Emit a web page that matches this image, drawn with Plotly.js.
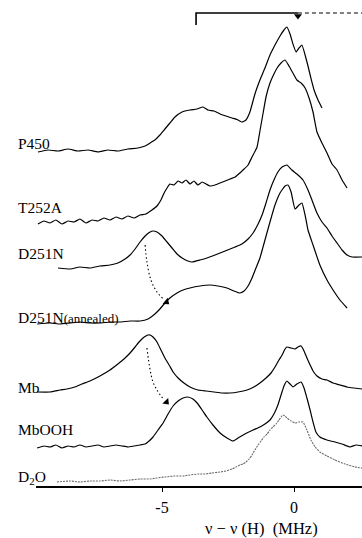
<!DOCTYPE html>
<html>
<head>
<meta charset="utf-8">
<script src="https://cdn.plot.ly/plotly-3.0.1.min.js"></script>
<style>html,body{margin:0;padding:0;background:#fff}</style>
</head>
<body>
<div id="chart" style="width:362px;height:538px"></div>
<script>
// ---- data (x in MHz, y in stacked intensity units) ----
const p450X = [-9.70,-9.32,-8.94,-8.56,-8.18,-7.80,-7.42,-7.05,-6.67,-6.29,-5.91,-5.64,-5.45,-5.27,-5.08,-4.89,-4.70,-4.51,-4.24,-3.94,-3.67,-3.45,-3.26,-3.03,-2.80,-2.58,-2.35,-2.12,-1.97,-1.82,-1.67,-1.48,-1.29,-1.10,-0.91,-0.72,-0.53,-0.38,-0.27,-0.15,-0.04,0.08,0.19,0.30,0.42,0.53,0.64,0.76,0.91,1.06];
const p450Y = [334,336,335,337,335,336,334,336,335,337,338,340,343,346,351,357,363,369,374,376,377,379,376,375,372,370,368,366,364,366,374,392,406,418,431,441,450,456,459,452,442,434,438,441,431,420,408,396,386,378];

const t252aX = [-9.70,-9.47,-9.24,-9.02,-8.79,-8.56,-8.33,-8.11,-7.88,-7.65,-7.42,-7.20,-6.97,-6.74,-6.52,-6.29,-6.06,-5.83,-5.61,-5.38,-5.19,-5.04,-4.92,-4.81,-4.70,-4.55,-4.39,-4.24,-4.09,-3.94,-3.79,-3.64,-3.48,-3.33,-3.18,-2.99,-2.80,-2.61,-2.42,-2.23,-2.05,-1.89,-1.74,-1.59,-1.40,-1.29,-1.17,-1.06,-0.91,-0.76,-0.64,-0.49,-0.34,-0.19,-0.04,0.11,0.27,0.42,0.57,0.72,0.87,1.06,1.25,1.44,1.63,1.82,2.01];
const t252aY = [262,265,263,266,262,265,264,267,263,266,265,268,266,269,267,270,268,271,272,276,280,286,293,298,302,301,305,303,306,302,305,301,304,302,300,301,303,305,307,309,313,317,321,329,339,355,373,389,403,412,418,423,426,420,413,406,403,398,388,374,354,343,333,322,316,306,298];

const d251nX = [-8.94,-8.48,-8.11,-7.73,-7.35,-6.97,-6.67,-6.40,-6.21,-6.02,-5.83,-5.64,-5.45,-5.34,-5.19,-5.00,-4.81,-4.62,-4.43,-4.24,-4.02,-3.86,-3.56,-3.30,-2.99,-2.61,-2.23,-1.97,-1.74,-1.55,-1.36,-1.21,-1.06,-0.91,-0.76,-0.61,-0.45,-0.27,-0.08,0.11,0.34,0.53,0.68,0.87,1.06,1.25,1.44,1.63,1.82,2.01,2.20,2.58];
const d251nY = [218,217,219,218,220,221,223,227,231,237,244,250,254,255,254,250,244,238,232,228,225,224,226,228,231,235,239,242,247,253,262,271,283,296,306,314,319,321,316,312,306,296,286,273,264,258,250,243,236,231,229,229];

const annealedX = [-9.73,-9.24,-8.86,-8.48,-8.11,-7.73,-7.35,-6.97,-6.59,-6.21,-5.83,-5.53,-5.27,-5.08,-4.89,-4.70,-4.43,-4.20,-3.94,-3.56,-3.18,-2.88,-2.54,-2.27,-2.05,-1.89,-1.74,-1.59,-1.44,-1.29,-1.10,-0.91,-0.72,-0.53,-0.34,-0.23,-0.11,0.04,0.19,0.30,0.42,0.53,0.72,0.98,1.25,1.48,1.74,2.01];
const annealedY = [162,163,162,163,164,163,163,164,164,165,165,167,172,177,183,188,193,196,198,200,201,200,198,195,193,195,200,208,218,228,246,264,281,293,300,301,294,277,281,283,271,256,241,221,206,196,186,178];

const mbX = [-9.73,-9.24,-8.86,-8.60,-8.30,-8.03,-7.73,-7.35,-6.97,-6.67,-6.44,-6.21,-6.02,-5.87,-5.72,-5.61,-5.53,-5.45,-5.34,-5.19,-5.04,-4.89,-4.73,-4.58,-4.39,-4.17,-3.94,-3.64,-3.33,-3.03,-2.73,-2.42,-2.12,-1.78,-1.52,-1.29,-1.06,-0.87,-0.72,-0.57,-0.45,-0.34,-0.27,-0.11,0.04,0.15,0.27,0.38,0.49,0.61,0.72,0.87,1.06,1.25,1.48,1.74,2.01,2.27,2.58];
const mbY = [94,94,96,97,99,102,105,110,116,122,127,133,139,144,148,150,151,151,149,144,136,128,121,114,108,103,99,96,95,94,93,93,94,96,99,103,108,113,119,126,131,137,139,138,137,139,140,135,128,121,115,110,107,106,103,101,99,98,97];

const mboohX = [-9.73,-9.47,-9.24,-9.02,-8.79,-8.56,-8.33,-8.11,-7.88,-7.65,-7.42,-7.20,-6.97,-6.74,-6.52,-6.29,-6.06,-5.83,-5.64,-5.49,-5.34,-5.15,-4.96,-4.77,-4.58,-4.39,-4.20,-4.02,-3.83,-3.67,-3.48,-3.30,-3.07,-2.80,-2.54,-2.31,-2.12,-1.86,-1.55,-1.29,-1.10,-0.91,-0.76,-0.61,-0.49,-0.38,-0.27,-0.15,-0.04,0.11,0.27,0.38,0.49,0.61,0.72,0.83,0.98,1.25,1.55,1.82,2.12,2.35,2.58];
const mboohY = [38,40,39,41,38,40,39,41,39,40,41,39,40,41,40,39,40,41,42,45,49,56,63,72,80,85,88,89,87,83,76,69,61,53,48,45,48,52,56,59,62,66,72,81,91,100,105,102,99,102,104,98,88,76,64,54,49,46,44,42,39,41,40];

const d2oX = [-8.98,-8.48,-8.11,-7.73,-7.35,-6.97,-6.59,-6.21,-5.83,-5.45,-5.19,-4.89,-4.51,-4.20,-3.94,-3.64,-3.37,-3.11,-2.80,-2.58,-2.35,-2.20,-2.05,-1.93,-1.82,-1.70,-1.59,-1.48,-1.36,-1.25,-1.14,-1.02,-0.91,-0.80,-0.68,-0.57,-0.49,-0.42,-0.34,-0.27,-0.11,0.04,0.19,0.34,0.49,0.64,0.80,0.98,1.25,1.55,1.93,2.31,2.58];
const d2oY = [4,5,4,5,5,6,5,6,7,7,8,9,10,10,11,12,12,13,14,15,17,19,21,22,24,27,31,36,41,45,49,52,56,59,62,66,69,71,70,68,65,63,64,64,56,46,39,34,30,26,22,19,18];

// dotted shift arrows (path + tip)
const arrow1X = [-5.64,-5.57,-5.42,-5.19,-4.95,-4.83];
const arrow1Y = [241,224,206,194,187,184];
const arrow2X = [-5.57,-5.45,-5.34,-5.19,-4.98,-4.83];
const arrow2Y = [138,116,104,96,88,84];

// bracket range at top (MHz)
const bracketX = [-3.71, 0.15];
const axisEndX = 2.58;

const labels = ['P450','T252A','D251N','D251N<span style="font-size:13px">(annealed)</span>','Mb','MbOOH','D<sub>2</sub>O'];
const labelY = [343,279,233,169,99,57,9];
const tickVals = [-5,0];
const tickText = ['-5','0'];

const serif = 'Liberation Serif, Times New Roman, serif';
const ln = {color:'#000', width:1.2, shape:'spline', smoothing:0.4};
const last = a => a[a.length-1];

const traces = [
  {x:p450X, y:p450Y, mode:'lines', line:ln},
  {x:t252aX, y:t252aY, mode:'lines', line:ln},
  {x:d251nX, y:d251nY, mode:'lines', line:ln},
  {x:annealedX, y:annealedY, mode:'lines', line:ln},
  {x:mbX, y:mbY, mode:'lines', line:ln},
  {x:mboohX, y:mboohY, mode:'lines', line:ln},
  {x:d2oX, y:d2oY, mode:'lines', line:{color:'#6a6a6a', width:1.1, dash:'2px,1px', shape:'spline', smoothing:0.4}},
  {x:arrow1X.slice(0,-1), y:arrow1Y.slice(0,-1), mode:'lines', line:{color:'#000', width:1.1, dash:'1.5px,2.5px', shape:'spline'}},
  {x:arrow2X.slice(0,-1), y:arrow2Y.slice(0,-1), mode:'lines', line:{color:'#000', width:1.1, dash:'1.5px,2.5px', shape:'spline'}},
  {x:[last(arrow1X), last(arrow2X)], y:[last(arrow1Y), last(arrow2Y)], mode:'markers',
    marker:{symbol:'triangle-up', size:7, color:'#000', angle:[128,136]}},
  {x:[bracketX[0],bracketX[0],bracketX[1]], y:[461,473,473], mode:'lines', line:{color:'#000', width:1.6}},
  {x:[bracketX[1],axisEndX], y:[473,473], mode:'lines', line:{color:'#000', width:1, dash:'4px,3px'}},
  {x:[bracketX[1]], y:[470], mode:'markers', marker:{symbol:'triangle-down', size:7, color:'#000'}}
];

const annotations = labels.map((t,i)=>({
  text:t, xref:'paper', x:-0.062, xanchor:'left', yref:'y', y:labelY[i], yanchor:'middle',
  showarrow:false, font:{family:serif, size:15.5, color:'#000'}
}));
annotations.push({text:'ν − ν (H)  (MHz)', xref:'paper', x:0.693, xanchor:'center', yref:'paper', y:-0.0875, yanchor:'middle',
  showarrow:false, font:{family:serif, size:16.5, color:'#000'}});

const layout = {
  width:362, height:538,
  margin:{l:36, r:0, t:0, b:52, pad:0},
  paper_bgcolor:'#fff', plot_bgcolor:'#fff',
  showlegend:false,
  xaxis:{range:[-9.7727, 2.5758], showgrid:false, zeroline:false, showline:true, linecolor:'#000', linewidth:1.5,
    ticks:'outside', ticklen:4, tickwidth:1, tickcolor:'#000', tickvals:tickVals, ticktext:tickText,
    tickfont:{family:serif, size:16, color:'#000'}, ticklabelstandoff:2, fixedrange:true},
  yaxis:{range:[0,486], visible:false, fixedrange:true},
  annotations:annotations
};

Plotly.newPlot('chart', traces, layout, {staticPlot:true, displayModeBar:false});
</script>
</body>
</html>
